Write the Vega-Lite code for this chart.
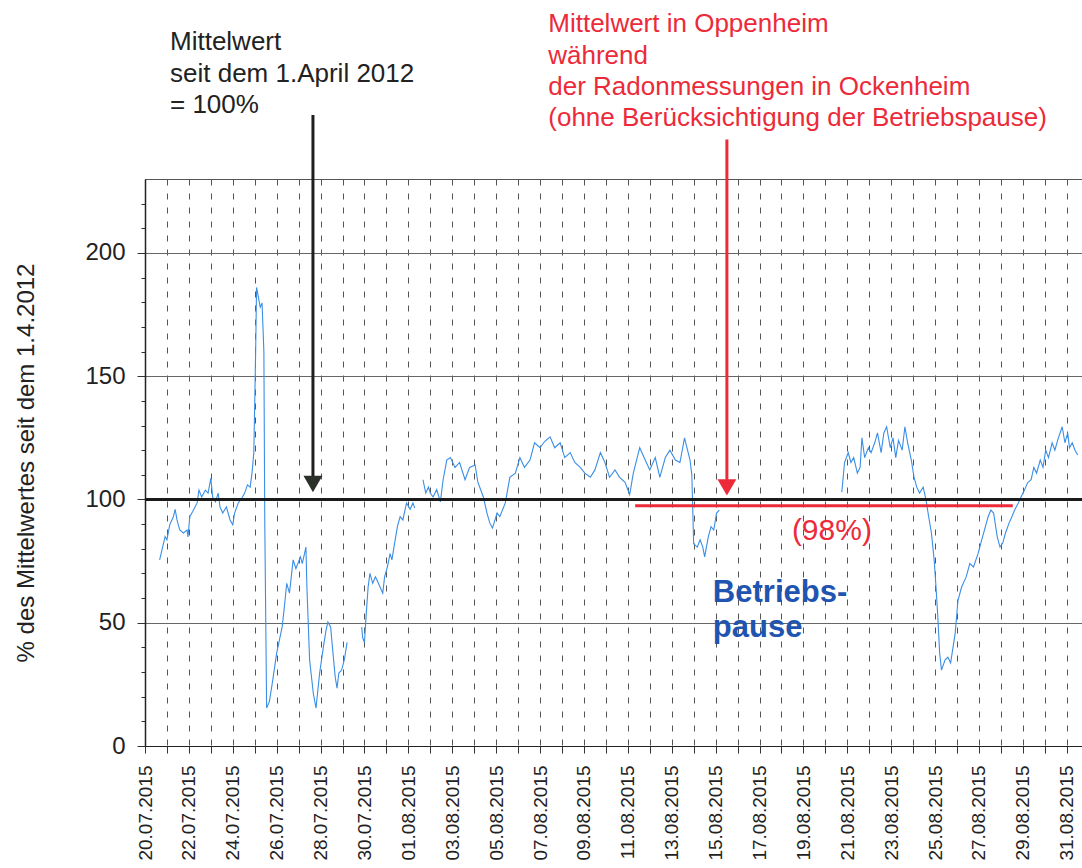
{
  "$schema": "https://vega.github.io/schema/vega-lite/v6.json",
  "width": 937,
  "height": 567,
  "autosize": {"type": "none"},
  "padding": {"left": 145, "top": 179, "right": 0, "bottom": 122},
  "background": "white",
  "config": {
    "font": "Liberation Sans",
    "view": {"stroke": "#555", "strokeWidth": 1}
  },
  "datasets": {
    "series": [
      {"t":"2015-07-20T16:00","v":75.5,"s":1},{"t":"2015-07-20T22:00","v":85,"s":1},{"t":"2015-07-21T00:00","v":83.6,"s":1},{"t":"2015-07-21T03:00","v":89.7,"s":1},{"t":"2015-07-21T07:00","v":93,"s":1},{"t":"2015-07-21T09:00","v":96,"s":1},{"t":"2015-07-21T11:00","v":91.7,"s":1},{"t":"2015-07-21T14:00","v":87.6,"s":1},{"t":"2015-07-21T18:00","v":86.4,"s":1},{"t":"2015-07-21T22:00","v":87.6,"s":1},{"t":"2015-07-21T23:00","v":84.8,"s":1},{"t":"2015-07-22T01:00","v":93,"s":1},{"t":"2015-07-22T04:00","v":95,"s":1},{"t":"2015-07-22T09:00","v":98.6,"s":1},{"t":"2015-07-22T11:00","v":103.8,"s":1},{"t":"2015-07-22T14:00","v":101,"s":1},{"t":"2015-07-22T18:00","v":103.8,"s":1},{"t":"2015-07-22T21:00","v":102.6,"s":1},{"t":"2015-07-23T00:00","v":108.7,"s":1},{"t":"2015-07-23T02:00","v":101,"s":1},{"t":"2015-07-23T05:00","v":99,"s":1},{"t":"2015-07-23T08:00","v":102.6,"s":1},{"t":"2015-07-23T10:00","v":97,"s":1},{"t":"2015-07-23T13:00","v":94.5,"s":1},{"t":"2015-07-23T17:00","v":97,"s":1},{"t":"2015-07-23T21:00","v":91.7,"s":1},{"t":"2015-07-24T00:00","v":89.7,"s":1},{"t":"2015-07-24T02:00","v":94.5,"s":1},{"t":"2015-07-24T06:00","v":98.6,"s":1},{"t":"2015-07-24T10:00","v":100.6,"s":1},{"t":"2015-07-24T13:00","v":102.6,"s":1},{"t":"2015-07-24T16:00","v":105.9,"s":1},{"t":"2015-07-24T19:00","v":105,"s":1},{"t":"2015-07-24T21:00","v":110.7,"s":1},{"t":"2015-07-24T23:00","v":119,"s":1},{"t":"2015-07-25T01:00","v":160,"s":1},{"t":"2015-07-25T02:00","v":186,"s":1},{"t":"2015-07-25T04:00","v":182,"s":1},{"t":"2015-07-25T06:00","v":178,"s":1},{"t":"2015-07-25T08:00","v":179.7,"s":1},{"t":"2015-07-25T09:00","v":170,"s":1},{"t":"2015-07-25T10:00","v":160,"s":1},{"t":"2015-07-25T11:00","v":90,"s":1},{"t":"2015-07-25T13:00","v":15.4,"s":1},{"t":"2015-07-25T16:00","v":18,"s":1},{"t":"2015-07-25T19:00","v":25,"s":1},{"t":"2015-07-26T00:00","v":37.7,"s":1},{"t":"2015-07-26T06:00","v":48.3,"s":1},{"t":"2015-07-26T08:00","v":55,"s":1},{"t":"2015-07-26T11:00","v":66,"s":1},{"t":"2015-07-26T14:00","v":62,"s":1},{"t":"2015-07-26T18:00","v":75.5,"s":1},{"t":"2015-07-26T21:00","v":72,"s":1},{"t":"2015-07-27T02:00","v":76.7,"s":1},{"t":"2015-07-27T04:00","v":74,"s":1},{"t":"2015-07-27T08:00","v":80.7,"s":1},{"t":"2015-07-27T09:00","v":65,"s":1},{"t":"2015-07-27T12:00","v":35,"s":1},{"t":"2015-07-27T16:00","v":21.5,"s":1},{"t":"2015-07-27T19:00","v":15.4,"s":1},{"t":"2015-07-27T23:00","v":29.6,"s":1},{"t":"2015-07-28T03:00","v":40,"s":1},{"t":"2015-07-28T06:00","v":47,"s":1},{"t":"2015-07-28T08:00","v":50.3,"s":1},{"t":"2015-07-28T11:00","v":48.3,"s":1},{"t":"2015-07-28T13:00","v":40,"s":1},{"t":"2015-07-28T16:00","v":28,"s":1},{"t":"2015-07-28T18:00","v":23.5,"s":1},{"t":"2015-07-28T20:00","v":29.6,"s":1},{"t":"2015-07-28T23:00","v":30.8,"s":1},{"t":"2015-07-29T02:00","v":35,"s":1},{"t":"2015-07-29T05:00","v":42,"s":1},
      {"t":"2015-07-29T21:00","v":48.3,"s":2},{"t":"2015-07-29T22:00","v":44,"s":2},{"t":"2015-07-30T00:00","v":42,"s":2},{"t":"2015-07-30T02:00","v":54,"s":2},{"t":"2015-07-30T04:00","v":64.5,"s":2},{"t":"2015-07-30T06:00","v":70,"s":2},{"t":"2015-07-30T09:00","v":66,"s":2},{"t":"2015-07-30T12:00","v":68.6,"s":2},{"t":"2015-07-30T14:00","v":67,"s":2},{"t":"2015-07-30T17:00","v":64.5,"s":2},{"t":"2015-07-30T20:00","v":62,"s":2},{"t":"2015-07-30T22:00","v":68.6,"s":2},{"t":"2015-07-31T01:00","v":72.6,"s":2},{"t":"2015-07-31T04:00","v":78,"s":2},{"t":"2015-07-31T06:00","v":75.5,"s":2},{"t":"2015-07-31T09:00","v":82.3,"s":2},{"t":"2015-07-31T12:00","v":89,"s":2},{"t":"2015-07-31T15:00","v":93,"s":2},{"t":"2015-07-31T18:00","v":91.7,"s":2},{"t":"2015-07-31T22:00","v":98.6,"s":2},{"t":"2015-08-01T02:00","v":96,"s":2},{"t":"2015-08-01T05:00","v":98.6,"s":2},{"t":"2015-08-01T07:00","v":96.5,"s":2},
      {"t":"2015-08-01T16:00","v":108,"s":3},{"t":"2015-08-01T19:00","v":102.6,"s":3},{"t":"2015-08-01T22:00","v":105,"s":3},{"t":"2015-08-02T00:00","v":102.6,"s":3},{"t":"2015-08-02T03:00","v":101,"s":3},{"t":"2015-08-02T07:00","v":104,"s":3},{"t":"2015-08-02T11:00","v":99,"s":3},{"t":"2015-08-02T14:00","v":108,"s":3},{"t":"2015-08-02T18:00","v":116,"s":3},{"t":"2015-08-02T22:00","v":117,"s":3},{"t":"2015-08-03T03:00","v":113,"s":3},{"t":"2015-08-03T08:00","v":115,"s":3},{"t":"2015-08-03T14:00","v":108,"s":3},{"t":"2015-08-03T19:00","v":113,"s":3},{"t":"2015-08-04T01:00","v":114,"s":3},{"t":"2015-08-04T04:00","v":107,"s":3},{"t":"2015-08-04T10:00","v":101,"s":3},{"t":"2015-08-04T14:00","v":94.5,"s":3},{"t":"2015-08-04T17:00","v":90.5,"s":3},{"t":"2015-08-04T20:00","v":88.4,"s":3},{"t":"2015-08-05T01:00","v":94.5,"s":3},{"t":"2015-08-05T04:00","v":93,"s":3},{"t":"2015-08-05T10:00","v":98.6,"s":3},{"t":"2015-08-05T15:00","v":109,"s":3},{"t":"2015-08-05T21:00","v":110.7,"s":3},{"t":"2015-08-06T02:00","v":117,"s":3},{"t":"2015-08-06T07:00","v":113,"s":3},{"t":"2015-08-06T13:00","v":116,"s":3},{"t":"2015-08-06T18:00","v":123,"s":3},{"t":"2015-08-07T00:00","v":121,"s":3},{"t":"2015-08-07T05:00","v":123.5,"s":3},{"t":"2015-08-07T11:00","v":125.4,"s":3},{"t":"2015-08-07T16:00","v":121,"s":3},{"t":"2015-08-07T22:00","v":123,"s":3},{"t":"2015-08-08T03:00","v":117,"s":3},{"t":"2015-08-08T09:00","v":119,"s":3},{"t":"2015-08-08T14:00","v":115,"s":3},{"t":"2015-08-08T20:00","v":113,"s":3},{"t":"2015-08-09T01:00","v":110.7,"s":3},{"t":"2015-08-09T07:00","v":109,"s":3},{"t":"2015-08-09T12:00","v":112,"s":3},{"t":"2015-08-09T18:00","v":119,"s":3},{"t":"2015-08-09T23:00","v":115,"s":3},{"t":"2015-08-10T04:00","v":109,"s":3},{"t":"2015-08-10T10:00","v":112,"s":3},{"t":"2015-08-10T15:00","v":109,"s":3},{"t":"2015-08-10T21:00","v":107,"s":3},{"t":"2015-08-11T02:00","v":102,"s":3},{"t":"2015-08-11T06:00","v":110.7,"s":3},{"t":"2015-08-11T13:00","v":121,"s":3},{"t":"2015-08-11T19:00","v":116,"s":3},{"t":"2015-08-12T00:00","v":112,"s":3},{"t":"2015-08-12T06:00","v":117,"s":3},{"t":"2015-08-12T11:00","v":109,"s":3},{"t":"2015-08-12T17:00","v":117,"s":3},{"t":"2015-08-12T22:00","v":120,"s":3},{"t":"2015-08-13T04:00","v":116,"s":3},{"t":"2015-08-13T09:00","v":115,"s":3},{"t":"2015-08-13T14:00","v":125,"s":3},{"t":"2015-08-13T20:00","v":116,"s":3},{"t":"2015-08-13T22:00","v":110,"s":3},{"t":"2015-08-14T00:00","v":82,"s":3},{"t":"2015-08-14T04:00","v":80.7,"s":3},{"t":"2015-08-14T07:00","v":83.6,"s":3},{"t":"2015-08-14T10:00","v":80.7,"s":3},{"t":"2015-08-14T12:00","v":76.7,"s":3},{"t":"2015-08-14T16:00","v":84.8,"s":3},{"t":"2015-08-14T19:00","v":89,"s":3},{"t":"2015-08-14T22:00","v":87.6,"s":3},{"t":"2015-08-15T01:00","v":94.5,"s":3},{"t":"2015-08-15T04:00","v":95.7,"s":3},
      {"t":"2015-08-20T18:00","v":103,"s":4},{"t":"2015-08-20T21:00","v":115,"s":4},{"t":"2015-08-21T01:00","v":119,"s":4},{"t":"2015-08-21T04:00","v":115,"s":4},{"t":"2015-08-21T07:00","v":117,"s":4},{"t":"2015-08-21T11:00","v":110.7,"s":4},{"t":"2015-08-21T14:00","v":113,"s":4},{"t":"2015-08-21T16:00","v":125,"s":4},{"t":"2015-08-21T19:00","v":117,"s":4},{"t":"2015-08-21T23:00","v":121,"s":4},{"t":"2015-08-22T02:00","v":119,"s":4},{"t":"2015-08-22T06:00","v":123,"s":4},{"t":"2015-08-22T09:00","v":127,"s":4},{"t":"2015-08-22T13:00","v":119,"s":4},{"t":"2015-08-22T16:00","v":127,"s":4},{"t":"2015-08-22T19:00","v":129.5,"s":4},{"t":"2015-08-22T23:00","v":121,"s":4},{"t":"2015-08-23T02:00","v":125,"s":4},{"t":"2015-08-23T05:00","v":117,"s":4},{"t":"2015-08-23T08:00","v":124,"s":4},{"t":"2015-08-23T12:00","v":120,"s":4},{"t":"2015-08-23T15:00","v":129.5,"s":4},{"t":"2015-08-23T18:00","v":123,"s":4},{"t":"2015-08-23T22:00","v":116,"s":4},{"t":"2015-08-24T01:00","v":109,"s":4},{"t":"2015-08-24T04:00","v":105,"s":4},{"t":"2015-08-24T07:00","v":102.6,"s":4},{"t":"2015-08-24T11:00","v":105,"s":4},{"t":"2015-08-24T14:00","v":100,"s":4},{"t":"2015-08-24T17:00","v":93,"s":4},{"t":"2015-08-24T20:00","v":86.4,"s":4},{"t":"2015-08-24T23:00","v":75.5,"s":4},{"t":"2015-08-25T01:00","v":64.5,"s":4},{"t":"2015-08-25T03:00","v":52.3,"s":4},{"t":"2015-08-25T05:00","v":37.7,"s":4},{"t":"2015-08-25T07:00","v":30.8,"s":4},{"t":"2015-08-25T11:00","v":35,"s":4},{"t":"2015-08-25T14:00","v":36,"s":4},{"t":"2015-08-25T17:00","v":33.7,"s":4},{"t":"2015-08-25T22:00","v":45.8,"s":4},{"t":"2015-08-26T01:00","v":59,"s":4},{"t":"2015-08-26T05:00","v":64.5,"s":4},{"t":"2015-08-26T10:00","v":68.6,"s":4},{"t":"2015-08-26T14:00","v":74,"s":4},{"t":"2015-08-26T18:00","v":72.6,"s":4},{"t":"2015-08-26T23:00","v":78,"s":4},{"t":"2015-08-27T03:00","v":83.6,"s":4},{"t":"2015-08-27T07:00","v":89,"s":4},{"t":"2015-08-27T10:00","v":93,"s":4},{"t":"2015-08-27T13:00","v":95.7,"s":4},{"t":"2015-08-27T16:00","v":94.5,"s":4},{"t":"2015-08-27T20:00","v":84.8,"s":4},{"t":"2015-08-27T23:00","v":80.7,"s":4},{"t":"2015-08-28T02:00","v":82.3,"s":4},{"t":"2015-08-28T05:00","v":86.4,"s":4},{"t":"2015-08-28T09:00","v":90.5,"s":4},{"t":"2015-08-28T12:00","v":93,"s":4},{"t":"2015-08-28T15:00","v":95.7,"s":4},{"t":"2015-08-28T19:00","v":98.6,"s":4},{"t":"2015-08-28T22:00","v":101,"s":4},{"t":"2015-08-29T02:00","v":104,"s":4},{"t":"2015-08-29T05:00","v":106.7,"s":4},{"t":"2015-08-29T09:00","v":108,"s":4},{"t":"2015-08-29T12:00","v":113,"s":4},{"t":"2015-08-29T15:00","v":110.7,"s":4},{"t":"2015-08-29T19:00","v":116,"s":4},{"t":"2015-08-29T22:00","v":113,"s":4},{"t":"2015-08-30T01:00","v":120,"s":4},{"t":"2015-08-30T04:00","v":117,"s":4},{"t":"2015-08-30T08:00","v":123,"s":4},{"t":"2015-08-30T11:00","v":120,"s":4},{"t":"2015-08-30T14:00","v":124,"s":4},{"t":"2015-08-30T19:00","v":129.5,"s":4},{"t":"2015-08-30T22:00","v":123,"s":4},{"t":"2015-08-31T01:00","v":127,"s":4},{"t":"2015-08-31T03:00","v":121,"s":4},{"t":"2015-08-31T06:00","v":123,"s":4},{"t":"2015-08-31T09:00","v":120,"s":4},{"t":"2015-08-31T12:00","v":118,"s":4}
    ]
  },
  "encoding": {
    "x": {
      "field": "t", "type": "temporal",
      "scale": {"domain": [{"year": 2015, "month": 7, "date": 20}, {"year": 2015, "month": 8, "date": 31, "hours": 16, "minutes": 40}]},
      "axis": {
        "title": null,
        "tickCount": {"interval": "day", "step": 1},
        "labelExpr": "round((datum.value - datetime(2015,6,20)) / 86400000) % 2 === 0 ? timeFormat(datum.value, '%d.%m.%Y') : ''",
        "labelAngle": 270,
        "labelFontSize": 19,
        "labelColor": "#222",
        "labelPadding": 12,
        "labelOverlap": false,
        "labelBound": false,
        "labelFlush": false,
        "tickSize": 7,
        "tickColor": "#333",
        "domainColor": "#222",
        "domainWidth": 1.2,
        "grid": true,
        "gridDash": [6, 8],
        "gridColor": "#555",
        "gridWidth": 1
      }
    },
    "y": {
      "field": "v", "type": "quantitative",
      "scale": {"domain": [0, 230], "nice": false, "zero": false},
      "axis": {
        "title": "% des Mittelwertes seit dem 1.4.2012",
        "titleFontSize": 24,
        "titleFontWeight": "normal",
        "titleColor": "#222",
        "titlePadding": 46,
        "values": [0,10,20,30,40,50,60,70,80,90,100,110,120,130,140,150,160,170,180,190,200,210,220],
        "labelExpr": "datum.value % 50 === 0 ? datum.label : ''",
        "labelFontSize": 24,
        "labelColor": "#222",
        "labelPadding": 12,
        "tickSize": {"condition": {"test": "datum.value % 50 === 0", "value": 8}, "value": 4},
        "tickColor": "#333",
        "domainColor": "#222",
        "domainWidth": 1.5,
        "grid": true,
        "gridColor": "#666",
        "gridWidth": 1,
        "gridOpacity": {"condition": {"test": "datum.value % 50 === 0 && datum.value > 0 && datum.value !== 100", "value": 1}, "value": 0}
      }
    }
  },
  "layer": [
    {
      "data": {"name": "series"},
      "mark": {"type": "line", "color": "#3a8ee6", "strokeWidth": 1.1},
      "encoding": {"detail": {"field": "s", "type": "nominal"}}
    },
    {
      "data": {"values": [{"t": "2015-07-20T00:00", "t2": "2015-08-31T16:40", "v": 100}]},
      "mark": {"type": "rule", "color": "#1a1a1a", "strokeWidth": 3},
      "encoding": {"x2": {"field": "t2"}}
    },
    {
      "data": {"values": [{"t": "2015-08-11T08:00", "t2": "2015-08-28T13:00", "v": 97.5}]},
      "mark": {"type": "rule", "color": "#ec2a3a", "strokeWidth": 3},
      "encoding": {"x2": {"field": "t2"}}
    },
    {
      "data": {"values": [{"t": "2015-07-27T15:40", "v": 256, "v2": 109}]},
      "mark": {"type": "rule", "color": "#1e1e1e", "strokeWidth": 3},
      "encoding": {"y2": {"field": "v2"}}
    },
    {
      "data": {"values": [{"t": "2015-07-27T15:40", "v": 106.3}]},
      "mark": {"type": "point", "shape": "triangle-down", "filled": true, "size": 360, "color": "#2b302b", "opacity": 1},
      "encoding": {}
    },
    {
      "data": {"values": [{"t": "2015-08-15T12:20", "v": 246, "v2": 108}]},
      "mark": {"type": "rule", "color": "#ec2a3a", "strokeWidth": 3},
      "encoding": {"y2": {"field": "v2"}}
    },
    {
      "data": {"values": [{"t": "2015-08-15T12:20", "v": 104.9}]},
      "mark": {"type": "point", "shape": "triangle-down", "filled": true, "size": 360, "color": "#ec2a3a", "opacity": 1},
      "encoding": {}
    },
    {
      "data": {"values": [
        {"t": "2015-07-21T03:20", "v": 282.4, "label": "Mittelwert"},
        {"t": "2015-07-21T03:20", "v": 269.4, "label": "seit dem 1.April 2012"},
        {"t": "2015-07-21T03:20", "v": 256.8, "label": "= 100%"}
      ]},
      "mark": {"type": "text", "align": "left", "baseline": "alphabetic", "fontSize": 26, "color": "#222"},
      "encoding": {"text": {"field": "label"}}
    },
    {
      "data": {"values": [
        {"t": "2015-08-07T09:00", "v": 289.5, "label": "Mittelwert in Oppenheim"},
        {"t": "2015-08-07T09:00", "v": 276.8, "label": "während"},
        {"t": "2015-08-07T09:00", "v": 264.1, "label": "der Radonmessungen in Ockenheim"},
        {"t": "2015-08-07T09:00", "v": 251.3, "label": "(ohne Berücksichtigung der Betriebspause)"}
      ]},
      "mark": {"type": "text", "align": "left", "baseline": "alphabetic", "fontSize": 26, "color": "#ec2a3a"},
      "encoding": {"text": {"field": "label"}}
    },
    {
      "data": {"values": [{"t": "2015-08-20T07:10", "v": 83.6, "label": "(98%)"}]},
      "mark": {"type": "text", "align": "center", "baseline": "alphabetic", "fontSize": 30, "color": "#ec2a3a"},
      "encoding": {"text": {"field": "label"}}
    },
    {
      "data": {"values": [
        {"t": "2015-08-14T21:00", "v": 58.6, "label": "Betriebs-"},
        {"t": "2015-08-14T21:00", "v": 44.4, "label": "pause"}
      ]},
      "mark": {"type": "text", "align": "left", "baseline": "alphabetic", "fontSize": 31, "fontWeight": "bold", "color": "#1f55b0"},
      "encoding": {"text": {"field": "label"}}
    }
  ]
}
